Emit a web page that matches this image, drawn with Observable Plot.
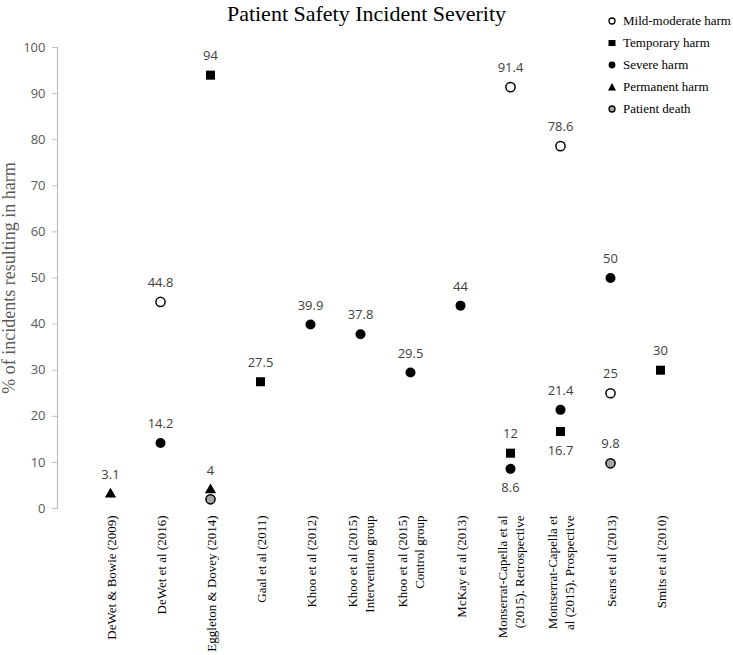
<!DOCTYPE html>
<html>
<head>
<meta charset="utf-8">
<script src="https://cdn.jsdelivr.net/npm/d3@7"></script>
<script src="https://cdn.jsdelivr.net/npm/@observablehq/plot@0.6"></script>
<style>
  html, body { margin: 0; padding: 0; background: #fff; }
  #wrap { position: relative; width: 733px; height: 655px; overflow: hidden; }
  #title { position: absolute; left: 0; top: 1px; width: 733px; text-align: center;
    font-family: "Liberation Serif", "Times New Roman", serif; font-size: 22px; color: #000; }
  #legend { position: absolute; left: 606px; top: 10px; font-family: "Liberation Serif", "Times New Roman", serif;
    font-size: 13px; color: #000; }
  #legend .row { display: flex; align-items: center; height: 22px; }
  #legend svg { width: 12px; height: 12px; margin-right: 5px; }
  #chart { position: absolute; left: 0; top: 0; }
</style>
</head>
<body>
<div id="wrap">
  <div id="chart"></div>
  <div id="title">Patient Safety Incident Severity</div>
  <div id="legend"></div>
</div>
<script>
const categories = [
  "DeWet & Bowie (2009)",
  "DeWet et al (2016)",
  "Eggleton & Dovey (2014)",
  "Gaal et al (2011)",
  "Khoo et al (2012)",
  "Khoo et al (2015)\nIntervention group",
  "Khoo et al (2015)\nControl group",
  "McKay et al (2013)",
  "Monserrat-Capella et al\n(2015). Retrospective",
  "Montserrat-Capella et\nal (2015). Prospective",
  "Sears et al (2013)",
  "Smits et al (2010)"
];
const seriesNames = ["Mild-moderate harm", "Temporary harm", "Severe harm", "Permanent harm", "Patient death"];
const mildModerate = [null, 44.8, null, null, null, null, null, null, 91.4, 78.6, 25, null];
const temporary    = [null, null, 94, 27.5, null, null, null, null, 12, 16.7, null, 30];
const severe       = [null, 14.2, null, null, 39.9, 37.8, 29.5, 44, 8.6, 21.4, 50, null];
const permanent    = [3.1, null, 4, null, null, null, null, null, null, null, null, null];
const death        = [null, null, 2, null, null, null, null, null, null, null, 9.8, null];
const yTicks = [0, 10, 20, 30, 40, 50, 60, 70, 80, 90, 100];
// labels placed below the marker / unlabeled points (category index, series)
const labelsBelow = [[8, "Severe harm"], [9, "Temporary harm"]];
const unlabeled = [[2, "Patient death"]];

const seriesValues = [mildModerate, temporary, severe, permanent, death];
const rows = [];
seriesValues.forEach((vals, s) => vals.forEach((v, i) => {
  if (v != null) rows.push({category: categories[i], ci: i, series: seriesNames[s], value: v});
}));
const isBelow = d => labelsBelow.some(([i, s]) => i === d.ci && s === d.series);
const isHidden = d => unlabeled.some(([i, s]) => i === d.ci && s === d.series);
const labelAbove = rows.filter(d => !isBelow(d) && !isHidden(d));
const labelBelow = rows.filter(d => isBelow(d));
const of = name => rows.filter(d => d.series === name);

const styles = {
  "Mild-moderate harm": {symbol: "circle", r: 4.6, fill: "white", stroke: "black", strokeWidth: 1.5},
  "Temporary harm": {symbol: "square", r: 5.1, fill: "black"},
  "Severe harm": {symbol: "circle", r: 5, fill: "black"},
  "Permanent harm": {symbol: "triangle", r: 4.2, fill: "black"},
  "Patient death": {symbol: "circle", r: 4.6, fill: "#a6a6a6", stroke: "black", strokeWidth: 1.5}
};

const chart = Plot.plot({
  width: 733,
  height: 655,
  marginTop: 47,
  marginBottom: 147,
  marginLeft: 57,
  marginRight: 20,
  style: {background: "transparent"},
  x: {type: "point", domain: categories, padding: 1, axis: null},
  y: {domain: [0, 100], axis: null},
  marks: [
    Plot.frame({anchor: "left", stroke: "#bfbfbf", strokeWidth: 1.2}),
    Plot.axisY({
      ticks: yTicks, tickSize: 5, tickPadding: 7, stroke: "#bfbfbf",
      fill: "#595959", fontSize: 13, fontFamily: "Open Sans, sans-serif",
      label: "% of incidents resulting in harm", labelAnchor: "center", labelArrow: "none",
      labelOffset: 55
    }),
    ...seriesNames.map(name => {
      const st = styles[name];
      return Plot.dot(of(name), {x: "category", y: "value", ...st});
    }),
    Plot.text(labelAbove, {x: "category", y: "value", text: d => String(d.value), dy: -19,
      fill: "#404040", fontSize: 13, fontFamily: "Open Sans, sans-serif"}),
    Plot.text(labelBelow, {x: "category", y: "value", text: d => String(d.value), dy: 19,
      fill: "#404040", fontSize: 13, fontFamily: "Open Sans, sans-serif"}),
    Plot.text(categories, {x: d => d, frameAnchor: "bottom", rotate: -90, textAnchor: "end",
      lineAnchor: "middle", lineHeight: 1.3, dy: 7, fill: "black", fontSize: 13,
      fontFamily: "Liberation Serif, Times New Roman, serif"})
  ]
});
document.getElementById("chart").appendChild(chart);

// style the y-axis label as serif gray
chart.querySelectorAll("text").forEach(t => {
  if (t.textContent === "% of incidents resulting in harm") {
    t.setAttribute("font-family", "Liberation Serif, Times New Roman, serif");
    t.setAttribute("font-size", "18");
    t.style.fontFamily = "Liberation Serif, Times New Roman, serif";
    t.style.fontSize = "18px";
  }
});

// legend
const legendSvg = {
  "Mild-moderate harm": '<circle cx="6" cy="6" r="3" fill="white" stroke="black" stroke-width="1.3"/>',
  "Temporary harm": '<rect x="2.5" y="3" width="7" height="6" fill="black"/>',
  "Severe harm": '<circle cx="6" cy="6" r="3.4" fill="black"/>',
  "Permanent harm": '<path d="M6,2 L10,9.5 L2,9.5 Z" fill="black"/>',
  "Patient death": '<circle cx="6" cy="6" r="3" fill="#a6a6a6" stroke="black" stroke-width="1.3"/>'
};
const legend = document.getElementById("legend");
seriesNames.forEach(name => {
  const row = document.createElement("div");
  row.className = "row";
  row.innerHTML = '<svg viewBox="0 0 12 12">' + legendSvg[name] + '</svg><span>' + name + '</span>';
  legend.appendChild(row);
});
</script>
</body>
</html>
